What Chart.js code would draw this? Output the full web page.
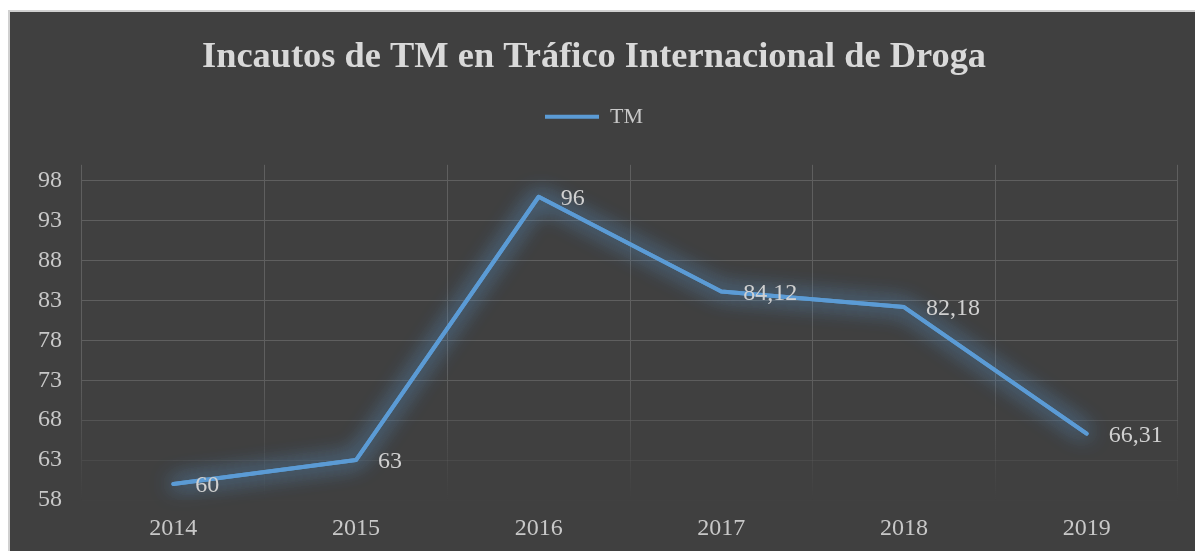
<!DOCTYPE html>
<html>
<head>
<meta charset="utf-8">
<script src="https://cdn.jsdelivr.net/npm/chart.js@4/dist/chart.umd.min.js"></script>
<style>
  html, body { margin: 0; padding: 0; background: #ffffff; overflow: hidden; }
  #card {
    position: absolute;
    left: 8px;
    top: 10px;
    width: 1187px;
    height: 541px;
    border-left: 2px solid #d0d0d0;
    border-top: 2px solid #d0d0d0;
    background: #404040;
  }
  #chart { display: block; }
</style>
</head>
<body>
<div id="card">
  <canvas id="chart" width="1185" height="539"></canvas>
</div>
<script>
// Data
const years = ['2014', '2015', '2016', '2017', '2018', '2019'];
const seizures = [60, 63, 96, 84.12, 82.18, 66.31];
const yTicks = [58, 63, 68, 73, 78, 83, 88, 93, 98];

const FONT = "'Times New Roman', 'Liberation Serif', serif";
const LINE_BLUE = '#5b9bd5';
const GRID_RGB = '95,95,95';

// Grid fades out towards the bottom of the plot
function fadeAlpha(y, area) {
  const start = area.top + (area.bottom - area.top) * 0.62;
  const end = area.bottom + 4;
  if (y <= start) return 1;
  if (y >= end) return 0;
  return 1 - (y - start) / (end - start);
}

// Empty box that leaves room between the legend and the plot
const legendGap = {
  id: 'legendGap',
  beforeInit(chart) {
    Chart.layouts.addBox(chart, {
      position: 'top',
      weight: 100,
      fullSize: true,
      options: { position: 'top', weight: 100, fullSize: true },
      left: 0, top: 0, right: 0, bottom: 0, width: 0, height: 0,
      isHorizontal() { return true; },
      update(maxWidth) {
        this.width = maxWidth;
        this.height = 27;
      },
      draw() {}
    });
  }
};

// Soft glow under the line (drawn twice so the halo is visible)
const glowPlugin = {
  id: 'glow',
  beforeDatasetDraw(chart, args) {
    const ctx = chart.ctx;
    ctx.save();
    ctx.shadowColor = 'rgba(91, 155, 213, 0.9)';
    ctx.shadowBlur = 22;
    args.meta.dataset.draw(ctx, chart.chartArea);
  },
  afterDatasetDraw(chart) {
    chart.ctx.restore();
  }
};

// Value labels to the right of each point
const valueLabels = {
  id: 'valueLabels',
  afterDatasetsDraw(chart) {
    const ctx = chart.ctx;
    const meta = chart.getDatasetMeta(0);
    ctx.save();
    ctx.font = '24px ' + FONT;
    ctx.fillStyle = '#d0d0d0';
    ctx.textAlign = 'left';
    ctx.textBaseline = 'middle';
    meta.data.forEach((pt, i) => {
      const txt = String(seizures[i]).replace('.', ',');
      ctx.fillText(txt, pt.x + 22, pt.y + 2);
    });
    ctx.restore();
  }
};

const ctx = document.getElementById('chart');
new Chart(ctx, {
  type: 'line',
  data: {
    labels: years,
    datasets: [{
      label: 'TM',
      data: seizures,
      borderColor: LINE_BLUE,
      backgroundColor: LINE_BLUE,
      borderWidth: 4,
      borderCapStyle: 'round',
      borderJoinStyle: 'round',
      pointRadius: 0,
      pointHoverRadius: 0,
      tension: 0,
      fill: false
    }]
  },
  options: {
    responsive: false,
    animation: false,
    events: [],
    layout: { padding: { left: 0, right: 17, top: 0, bottom: 0 } },
    plugins: {
      title: {
        display: true,
        text: 'Incautos de TM en Tráfico Internacional de Droga',
        color: '#d9d9d9',
        font: { family: FONT, size: 36.4, weight: 'bold', lineHeight: 0.6 },
        padding: { top: 35, bottom: 0 }
      },
      legend: {
        display: true,
        position: 'top',
        labels: {
          color: '#c8c8c8',
          font: { family: FONT, size: 22 },
          usePointStyle: true,
          pointStyle: 'line',
          pointStyleWidth: 54,
          padding: 37
        }
      },
      tooltip: { enabled: false }
    },
    scales: {
      x: {
        offset: true,
        grid: {
          offset: true,
          drawTicks: false,
          lineWidth: 1,
          color(c) {
            const area = c.chart.chartArea;
            if (!area) return 'rgb(' + GRID_RGB + ')';
            const g = c.chart.ctx.createLinearGradient(0, area.top, 0, area.bottom);
            g.addColorStop(0, 'rgba(' + GRID_RGB + ',1)');
            g.addColorStop(0.62, 'rgba(' + GRID_RGB + ',1)');
            g.addColorStop(1, 'rgba(' + GRID_RGB + ',0)');
            return g;
          }
        },
        border: { display: false },
        ticks: {
          color: '#c8c8c8',
          font: { family: FONT, size: 24 },
          padding: 14,
          maxRotation: 0
        },
        afterFit(scale) { scale.height = 51; }
      },
      y: {
        min: 58,
        max: 100,
        afterBuildTicks(scale) {
          scale.ticks = yTicks.map(v => ({ value: v }));
        },
        grid: {
          drawTicks: false,
          lineWidth: 1,
          color(c) {
            const area = c.chart.chartArea;
            if (!area || !c.tick) return 'rgb(' + GRID_RGB + ')';
            const y = c.chart.scales.y.getPixelForValue(c.tick.value);
            return 'rgba(' + GRID_RGB + ',' + fadeAlpha(y, area).toFixed(3) + ')';
          }
        },
        border: { display: false },
        ticks: {
          color: '#c8c8c8',
          font: { family: FONT, size: 24 },
          padding: 20
        },
        afterFit(scale) { scale.width = 72; }
      }
    }
  },
  plugins: [legendGap, glowPlugin, valueLabels]
});
</script>
</body>
</html>
